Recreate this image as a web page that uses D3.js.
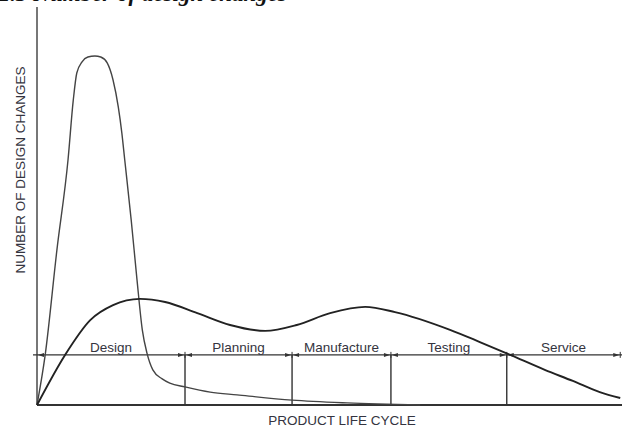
<!DOCTYPE html>
<html>
<head>
<meta charset="utf-8">
<script src="https://cdn.jsdelivr.net/npm/d3@7"></script>
<style>
  body { margin: 0; background: #fff; }
  svg { display: block; }
  .lbl { font-family: "Liberation Sans", Arial, sans-serif; font-size: 13.5px; fill: #343440; }
</style>
</head>
<body>
<svg id="chart" width="623" height="429"></svg>
<script>
// phases along the life cycle, boundaries in % of the product life
var phases = ["Design", "Planning", "Manufacture", "Testing", "Service"];
var phaseEdges = [0, 25.3, 43.6, 60.5, 80.3, 99.7];
var phaseLevel = 14.4;

// design changes (x = life %, y = relative count)
var earlyX = [0, 1.4, 3.4, 5.3, 6.2, 6.8, 7.7, 8.7, 9.9, 10.9, 12.0, 13.0, 13.9, 14.5, 15.0, 16.1, 17.1, 18.0, 18.8, 19.8, 21.4, 22.7, 25.3, 29.6, 34.2, 43.6, 53.0, 65.5];
var earlyY = [0, 14.4, 44.5, 70.4, 87.6, 95.4, 98.6, 100, 100.3, 100, 98.3, 93.4, 85.6, 78.2, 70.4, 53.2, 35.9, 21.6, 14.9, 10.1, 7.5, 6.3, 5.2, 3.7, 2.9, 1.4, 0.6, 0];

var lateX = [0, 4.8, 9.1, 13.0, 17.6, 21.9, 27.4, 33.0, 39.0, 44.4, 50.1, 56.1, 61.2, 70.6, 75.7, 80.9, 86.8, 91.6, 96.2, 99.7];
var lateY = [0, 14.4, 24.4, 28.7, 30.5, 29.6, 26.4, 23.0, 21.3, 23.0, 26.4, 28.2, 26.7, 21.6, 18.1, 14.4, 10.1, 6.9, 3.7, 2.0];

var svg = d3.select("#chart");

var x = d3.scaleLinear().domain([0, 100]).range([37, 622]);
var y = d3.scaleLinear().domain([0, 100]).range([405, 57]);

// caption, mostly above the top edge of the page
svg.append("text")
    .attr("x", 287).attr("y", 1)
    .attr("text-anchor", "end")
    .style("font-family", "'Liberation Serif', 'Times New Roman', serif")
    .style("font-weight", "bold").style("font-style", "italic")
    .style("font-size", "23px").style("fill", "#111")
    .text("Figure 1.3  Number of design changes");

// axes
svg.append("line")
    .attr("x1", x(0)).attr("x2", x(0))
    .attr("y1", 7).attr("y2", y(0))
    .attr("stroke", "#555").attr("stroke-width", 1.6);

svg.append("line")
    .attr("x1", x(0)).attr("x2", 622)
    .attr("y1", y(0)).attr("y2", y(0))
    .attr("stroke", "#333").attr("stroke-width", 2);

// phase dividers
svg.selectAll("line.div")
    .data(phaseEdges.slice(1, -1))
    .enter().append("line")
    .attr("class", "div")
    .attr("x1", function(d){ return x(d); })
    .attr("x2", function(d){ return x(d); })
    .attr("y1", y(phaseLevel)).attr("y2", y(0))
    .attr("stroke", "#333").attr("stroke-width", 1.4);

// phase line with arrows
svg.append("line")
    .attr("x1", x(0) - 4).attr("x2", 622)
    .attr("y1", y(phaseLevel)).attr("y2", y(phaseLevel))
    .attr("stroke", "#333").attr("stroke-width", 1.3);

var py = y(phaseLevel);
phaseEdges.forEach(function(e, i){
    var px = x(e);
    if(i > 0){
        svg.append("path")
            .attr("d", "M" + (px - 1) + "," + py + "L" + (px - 7) + "," + (py - 2) + "L" + (px - 7) + "," + (py + 2) + "Z")
            .attr("fill", "#333");
        svg.append("line")
            .attr("x1", px).attr("x2", px).attr("y1", py - 3).attr("y2", py + 3)
            .attr("stroke", "#333").attr("stroke-width", 1);
    }
    if(i < phaseEdges.length - 1){
        svg.append("path")
            .attr("d", "M" + (px + 1) + "," + py + "L" + (px + 7) + "," + (py - 2) + "L" + (px + 7) + "," + (py + 2) + "Z")
            .attr("fill", "#333");
    }
});

svg.selectAll("text.phase")
    .data(phases)
    .enter().append("text")
    .attr("class", "lbl phase")
    .attr("x", function(d, i){ return (x(phaseEdges[i]) + x(phaseEdges[i + 1])) / 2; })
    .attr("y", py - 3)
    .attr("text-anchor", "middle")
    .text(function(d){ return d; });

// curves
var line = d3.line()
    .x(function(d){ return x(d[0]); })
    .y(function(d){ return y(d[1]); })
    .curve(d3.curveMonotoneX);

svg.append("path")
    .datum(d3.zip(earlyX, earlyY))
    .attr("d", line)
    .attr("fill", "none")
    .attr("stroke", "#444").attr("stroke-width", 1.4);

svg.append("path")
    .datum(d3.zip(lateX, lateY))
    .attr("d", line)
    .attr("fill", "none")
    .attr("stroke", "#222").attr("stroke-width", 1.9);

// axis titles
svg.append("text")
    .attr("class", "lbl")
    .attr("x", 342).attr("y", 425)
    .attr("text-anchor", "middle")
    .text("PRODUCT LIFE CYCLE");

svg.append("text")
    .attr("class", "lbl")
    .attr("transform", "translate(25,170) rotate(-90)")
    .attr("text-anchor", "middle")
    .text("NUMBER OF DESIGN CHANGES");
</script>
</body>
</html>
